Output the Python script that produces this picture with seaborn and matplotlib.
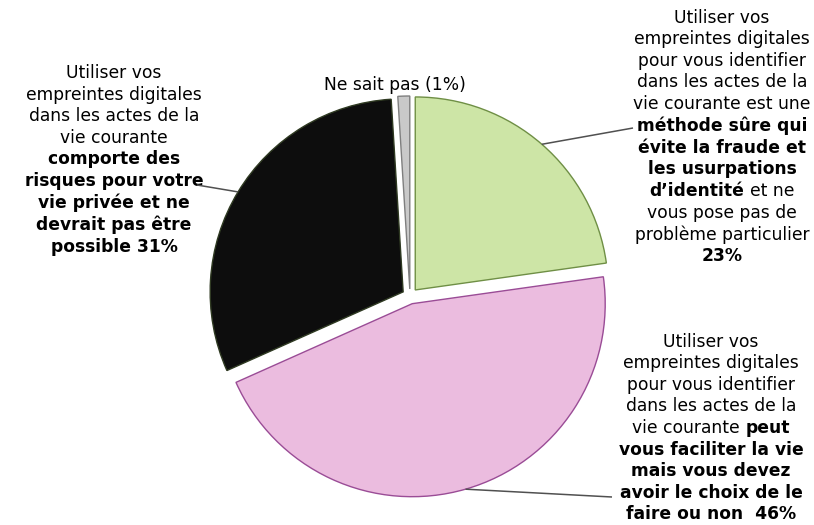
import numpy as np
import matplotlib
matplotlib.use("Agg")
import matplotlib.pyplot as plt
import seaborn as sns
from matplotlib.offsetbox import TextArea, HPacker, VPacker, AnnotationBbox

# -------- data --------
categories = ["sure", "faciliter", "risques", "nsp"]
shares = [23, 46, 31, 1]
colors = ["#CDE5A6", "#EBBCDF", "#0D0D0D", "#C9C9C9"]
edges = ["#6F8F45", "#9A4C96", "#2F3A22", "#7F7F7F"]

# label lines: list of (text, bold) segments per line
label_sure = [
    [("Utiliser vos", False)],
    [("empreintes digitales", False)],
    [("pour vous identifier", False)],
    [("dans les actes de la", False)],
    [("vie courante est une", False)],
    [("méthode sûre qui", True)],
    [("évite la fraude et", True)],
    [("les usurpations", True)],
    [("d’identité", True), ("et ne", False)],
    [("vous pose pas de", False)],
    [("problème particulier", False)],
    [("23%", True)],
]
label_faciliter = [
    [("Utiliser vos", False)],
    [("empreintes digitales", False)],
    [("pour vous identifier", False)],
    [("dans les actes de la", False)],
    [("vie courante", False), ("peut", True)],
    [("vous faciliter la vie", True)],
    [("mais vous devez", True)],
    [("avoir le choix de le", True)],
    [("faire ou non  46%", True)],
]
label_risques = [
    [("Utiliser vos", False)],
    [("empreintes digitales", False)],
    [("dans les actes de la", False)],
    [("vie courante", False)],
    [("comporte des", True)],
    [("risques pour votre", True)],
    [("vie privée et ne", True)],
    [("devrait pas être", True)],
    [("possible 31%", True)],
]
label_nsp = "Ne sait pas (1%)"

# -------- style --------
sns.set_theme(style="white")
plt.rcParams["font.family"] = ["DejaVu Sans"]
FS = 12.3

fig = plt.figure(figsize=(8.14, 5.25), dpi=100)
ax = fig.add_axes([0, 0, 1, 1])

# explode is in data units here (pie drawn in pixel-like coords)
wedges, _ = ax.pie(
    shares,
    explode=[8, 8, 8, 7],
    startangle=90,
    counterclock=False,
    colors=colors,
    center=(410, 229),
    radius=193,
    wedgeprops=dict(linewidth=1.0),
)
for w, ec in zip(wedges, edges):
    w.set_edgecolor(ec)

ax.set_xlim(0, 814)
ax.set_ylim(0, 525)
ax.set_aspect("equal")
ax.axis("off")


def make_block(lines):
    rows = []
    for segs in lines:
        parts = [TextArea(t, textprops=dict(fontsize=FS, color="black",
                                            fontweight="bold" if b else "normal"))
                 for t, b in segs]
        rows.append(HPacker(children=parts, align="baseline", pad=0, sep=4))
    return VPacker(children=rows, align="center", pad=0, sep=2.6)


def arc_point(w):
    mid = np.deg2rad((w.theta1 + w.theta2) / 2)
    cx, cy = w.center
    return cx + w.r * np.cos(mid), cy + w.r * np.sin(mid)


blocks = [
    (label_sure, wedges[0], (722, 388), (633, 397)),
    (label_faciliter, wedges[1], (711, 97), (612, 28)),
    (label_risques, wedges[2], (114, 365), (197, 340)),
]
for lines, w, pos, end in blocks:
    ab = AnnotationBbox(make_block(lines), pos, xycoords="data",
                        box_alignment=(0.5, 0.5), frameon=False, pad=0)
    ax.add_artist(ab)
    px, py = arc_point(w)
    ax.plot([px, end[0]], [py, end[1]], color="#505050", lw=1.1,
            solid_capstyle="butt", zorder=3)

ax.text(395, 440, label_nsp, fontsize=FS, ha="center", va="center", color="black")

fig.savefig("out.png", dpi=100)
